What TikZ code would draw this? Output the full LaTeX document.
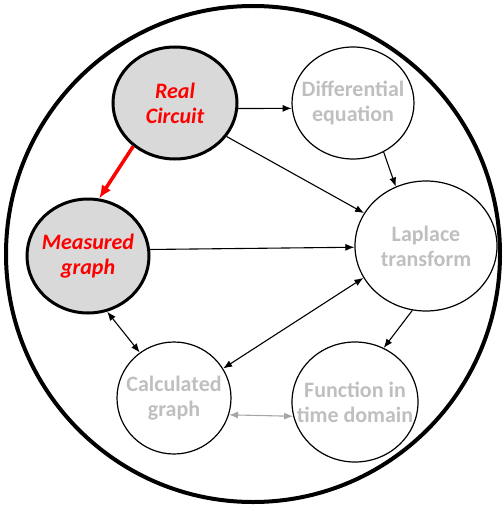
\documentclass[tikz,border=0pt]{standalone}
\usepackage{fontspec}
\setmainfont{Carlito}
\usetikzlibrary{shapes.geometric,arrows.meta}
\definecolor{lightgray}{RGB}{191,191,191}
\definecolor{fillgray}{RGB}{217,217,217}
\definecolor{arrowgray}{RGB}{166,166,166}
\begin{document}
\begin{tikzpicture}[x=1pt,y=-1pt,
    bubble/.style={ellipse, draw, line width=1.2pt, inner xsep=-16pt, inner ysep=0pt, align=center,
      font=\fontsize{22}{25}\selectfont\bfseries, text=lightgray},
    known/.style={bubble, line width=3pt, fill=fillgray, text=red,
      font=\fontsize{22}{25}\selectfont\bfseries\itshape},
    link/.style={-{Latex[length=9pt,width=7pt]}, line width=1.1pt},
    both/.style={{Latex[length=9pt,width=7pt]}-{Latex[length=9pt,width=7pt]}, line width=1.1pt}]
        \useasboundingbox (0,0) rectangle (501,508);

        % outer boundary
        \draw[line width=4pt] (253,254) ellipse (247 and 248);

        \node[known, minimum width=124, minimum height=112] (rc) at (175,103) {Real\\Circuit};
        \node[known, minimum width=122, minimum height=114] (mg) at (88,256) {Measured\\graph};
        \node[bubble, minimum width=122, minimum height=112] (de) at (353,103) {Differential\\equation};
        \node[bubble, minimum width=142, minimum height=130] (lt) at (426,246) {Laplace\\transform};
        \node[bubble, minimum width=114, minimum height=112] (cg) at (174,398) {Calculated\\graph};
        \node[bubble, minimum width=126, minimum height=120] (fn) at (355,402) {Function in\\time domain};

        \draw[-{Latex[length=13pt,width=11pt]}, line width=3.5pt, red] (rc.226) -- (mg.79);
        \draw[link] (rc.-5) -- (de.185);
        \draw[link] (rc.-33) -- (lt.152);
        \draw[link] (de.-58) -- (lt.117);
        \draw[link] (mg.6) -- (lt.181);
        \draw[link] (lt.258) -- (fn.62);
        \draw[both] (mg.-71) -- (cg.127);
        \draw[both] (cg.31) -- (lt.207);
        \draw[both, arrowgray] (cg.-17) -- (fn.193);
      \end{tikzpicture}
\end{document}
